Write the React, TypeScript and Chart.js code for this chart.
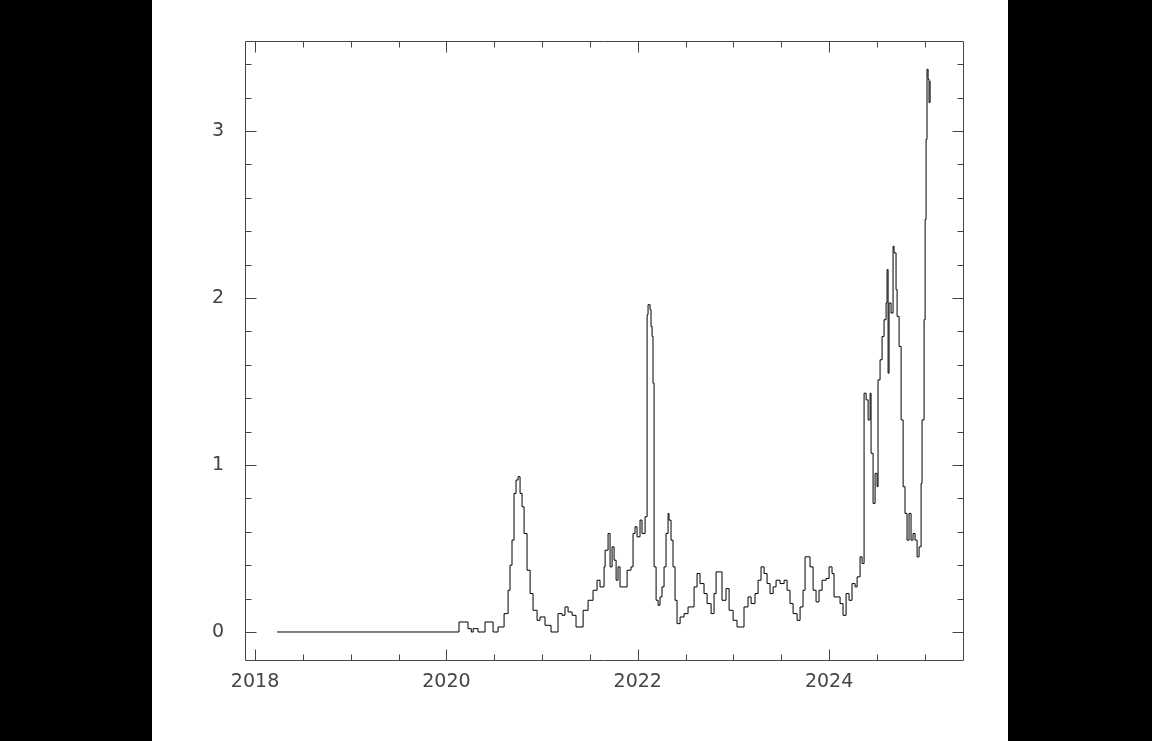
import React, { useEffect, useRef } from "react";
import { Chart, registerables } from "chart.js";

Chart.register(...registerables);

const YEARS = [
  2018.23, 2020.132, 2020.226, 2020.26, 2020.28, 2020.331, 2020.404, 2020.488, 2020.54, 2020.603,
  2020.645, 2020.665, 2020.686, 2020.707, 2020.728, 2020.749, 2020.77, 2020.791, 2020.812, 2020.843,
  2020.875, 2020.906, 2020.948, 2020.979, 2021.031, 2021.094, 2021.167, 2021.209, 2021.24, 2021.272,
  2021.314, 2021.355, 2021.429, 2021.481, 2021.533, 2021.575, 2021.606, 2021.648, 2021.659, 2021.69,
  2021.711, 2021.732, 2021.753, 2021.774, 2021.794, 2021.815, 2021.857, 2021.889, 2021.93, 2021.951,
  2021.972, 2021.993, 2022.024, 2022.045, 2022.077, 2022.098, 2022.108, 2022.129, 2022.139, 2022.15,
  2022.16, 2022.171, 2022.192, 2022.213, 2022.233, 2022.254, 2022.275, 2022.296, 2022.317, 2022.327,
  2022.348, 2022.369, 2022.39, 2022.411, 2022.443, 2022.484, 2022.526, 2022.547, 2022.589, 2022.62,
  2022.651, 2022.693, 2022.725, 2022.767, 2022.798, 2022.819, 2022.861, 2022.881, 2022.923, 2022.955,
  2022.997, 2023.038, 2023.08, 2023.111, 2023.153, 2023.185, 2023.226, 2023.258, 2023.289, 2023.321,
  2023.352, 2023.383, 2023.415, 2023.446, 2023.488, 2023.53, 2023.561, 2023.592, 2023.624, 2023.666,
  2023.697, 2023.728, 2023.749, 2023.78, 2023.801, 2023.833, 2023.864, 2023.895, 2023.927, 2023.969,
  2024.0, 2024.031, 2024.052, 2024.084, 2024.115, 2024.146, 2024.178, 2024.209, 2024.24, 2024.272,
  2024.293, 2024.324, 2024.345, 2024.366, 2024.387, 2024.408, 2024.429, 2024.439, 2024.46, 2024.481,
  2024.502, 2024.512, 2024.533, 2024.554, 2024.575, 2024.596, 2024.606, 2024.617, 2024.627, 2024.648,
  2024.669, 2024.679, 2024.7, 2024.711, 2024.732, 2024.753, 2024.774, 2024.794, 2024.815, 2024.836,
  2024.857, 2024.878, 2024.899, 2024.92, 2024.941, 2024.962, 2024.972, 2024.993, 2025.004, 2025.014,
  2025.024, 2025.035, 2025.045, 2025.056,
];

const VALUES = [
  0, 0.06, 0.02, 0.0, 0.02, 0, 0.06, 0, 0.03, 0.11,
  0.25, 0.4, 0.55, 0.83, 0.91, 0.93, 0.83, 0.75, 0.59, 0.37,
  0.23, 0.13, 0.07, 0.09, 0.04, 0, 0.11, 0.1, 0.15, 0.12,
  0.1, 0.03, 0.13, 0.19, 0.25, 0.31, 0.27, 0.39, 0.49, 0.59,
  0.39, 0.51, 0.43, 0.31, 0.39, 0.27, 0.27, 0.37, 0.39, 0.59,
  0.63, 0.57, 0.67, 0.59, 0.69, 1.9, 1.96, 1.93, 1.83, 1.77,
  1.49, 0.39, 0.19, 0.16, 0.21, 0.27, 0.39, 0.59, 0.71, 0.67,
  0.55, 0.39, 0.19, 0.05, 0.09, 0.11, 0.15, 0.15, 0.27, 0.35,
  0.29, 0.23, 0.17, 0.11, 0.23, 0.36, 0.36, 0.19, 0.26, 0.13,
  0.07, 0.03, 0.03, 0.15, 0.21, 0.17, 0.23, 0.31, 0.39, 0.35,
  0.29, 0.23, 0.27, 0.31, 0.29, 0.31, 0.25, 0.17, 0.11, 0.07,
  0.15, 0.25, 0.45, 0.45, 0.39, 0.25, 0.18, 0.25, 0.31, 0.32,
  0.39, 0.35, 0.21, 0.21, 0.17, 0.1, 0.23, 0.19, 0.29, 0.27,
  0.33, 0.45, 0.41, 1.43, 1.39, 1.27, 1.43, 1.07, 0.77, 0.95,
  0.87, 1.51, 1.63, 1.77, 1.87, 1.97, 2.17, 1.55, 1.97, 1.91,
  2.31, 2.27, 2.05, 1.89, 1.71, 1.27, 0.87, 0.71, 0.55, 0.71,
  0.55, 0.59, 0.55, 0.45, 0.51, 0.89, 1.27, 1.87, 2.47, 2.95,
  3.37, 3.31, 3.17, 3.3,
];

const X_MAJOR = [2018, 2020, 2022, 2024];
const X_MINOR = [2018.5, 2019, 2019.5, 2020.5, 2021, 2021.5, 2022.5, 2023, 2023.5, 2024.5, 2025];
const Y_MAJOR = [0, 1, 2, 3];
const Y_MINOR = [0.2, 0.4, 0.6, 0.8, 1.2, 1.4, 1.6, 1.8, 2.2, 2.4, 2.6, 2.8, 3.2, 3.4];

const X_MIN = 2017.895;
const X_MAX = 2025.4;
const Y_MIN = -0.1677;
const Y_MAX = 3.539;

const FRAME_COLOR = "#444444";
const LABEL_FONT = { family: "'DejaVu Sans', sans-serif", size: 19, weight: "normal" as any };

const framePlugin = {
  id: "pgFrame",
  afterDatasetsDraw(chart: any) {
    const { ctx, chartArea, scales } = chart;
    const { left, right, top, bottom } = chartArea;
    const xs = scales.x;
    const ys = scales.y;
    const r = (v: number) => Math.round(v) + 0.5;
    ctx.save();
    ctx.strokeStyle = FRAME_COLOR;
    ctx.lineWidth = 1;
    ctx.beginPath();
    ctx.rect(r(left), r(top), Math.round(right) - Math.round(left), Math.round(bottom) - Math.round(top));
    const xt = (vals: number[], len: number) => {
      vals.forEach((v) => {
        const px = r(xs.getPixelForValue(v));
        ctx.moveTo(px, r(bottom));
        ctx.lineTo(px, r(bottom) - len);
        ctx.moveTo(px, r(top));
        ctx.lineTo(px, r(top) + len);
      });
    };
    const yt = (vals: number[], len: number) => {
      vals.forEach((v) => {
        const py = r(ys.getPixelForValue(v));
        ctx.moveTo(r(left), py);
        ctx.lineTo(r(left) + len, py);
        ctx.moveTo(r(right), py);
        ctx.lineTo(r(right) - len, py);
      });
    };
    xt(X_MAJOR, 11);
    xt(X_MINOR, 6);
    yt(Y_MAJOR, 11);
    yt(Y_MINOR, 6);
    ctx.stroke();
    ctx.restore();
  },
};

export default function App() {
  const ref = useRef<HTMLCanvasElement | null>(null);

  useEffect(() => {
    if (!ref.current) return;
    const points = YEARS.map((x, i) => ({ x, y: VALUES[i] }));
    const chart = new Chart(ref.current, {
      type: "line",
      data: {
        datasets: [
          {
            data: points,
            borderColor: "#000000",
            borderWidth: 1,
            pointRadius: 0,
            stepped: true,
            fill: false,
          },
        ],
      },
      options: {
        animation: false,
        responsive: false,
        maintainAspectRatio: false,
        layout: { padding: { top: 41, right: 45, left: 0, bottom: 0 } },
        plugins: { legend: { display: false }, tooltip: { enabled: false } },
        scales: {
          x: {
            type: "linear",
            min: X_MIN,
            max: X_MAX,
            grid: { display: false },
            border: { display: false },
            afterBuildTicks: (scale: any) => {
              scale.ticks = X_MAJOR.map((v) => ({ value: v }));
            },
            afterFit: (scale: any) => {
              scale.height = 81;
            },
            ticks: {
              color: "#444",
              font: LABEL_FONT,
              padding: 3,
              maxRotation: 0,
              autoSkip: false,
              callback: (v: any) => String(v),
            },
          },
          y: {
            type: "linear",
            min: Y_MIN,
            max: Y_MAX,
            grid: { display: false },
            border: { display: false },
            afterBuildTicks: (scale: any) => {
              scale.ticks = Y_MAJOR.map((v) => ({ value: v }));
            },
            afterFit: (scale: any) => {
              scale.width = 93;
            },
            ticks: {
              color: "#444",
              font: LABEL_FONT,
              padding: 13,
              autoSkip: false,
              callback: (v: any) => String(v),
            },
          },
        },
      },
      plugins: [framePlugin],
    });
    return () => chart.destroy();
  }, []);

  return (
    <div style={{ position: "fixed", left: 0, top: 0, width: 1152, height: 741, background: "#000" }}>
      <div style={{ position: "absolute", left: 152, top: 0, width: 856, height: 741, background: "#fff" }}>
        <canvas ref={ref} width={856} height={741} style={{ display: "block" }} />
      </div>
    </div>
  );
}
